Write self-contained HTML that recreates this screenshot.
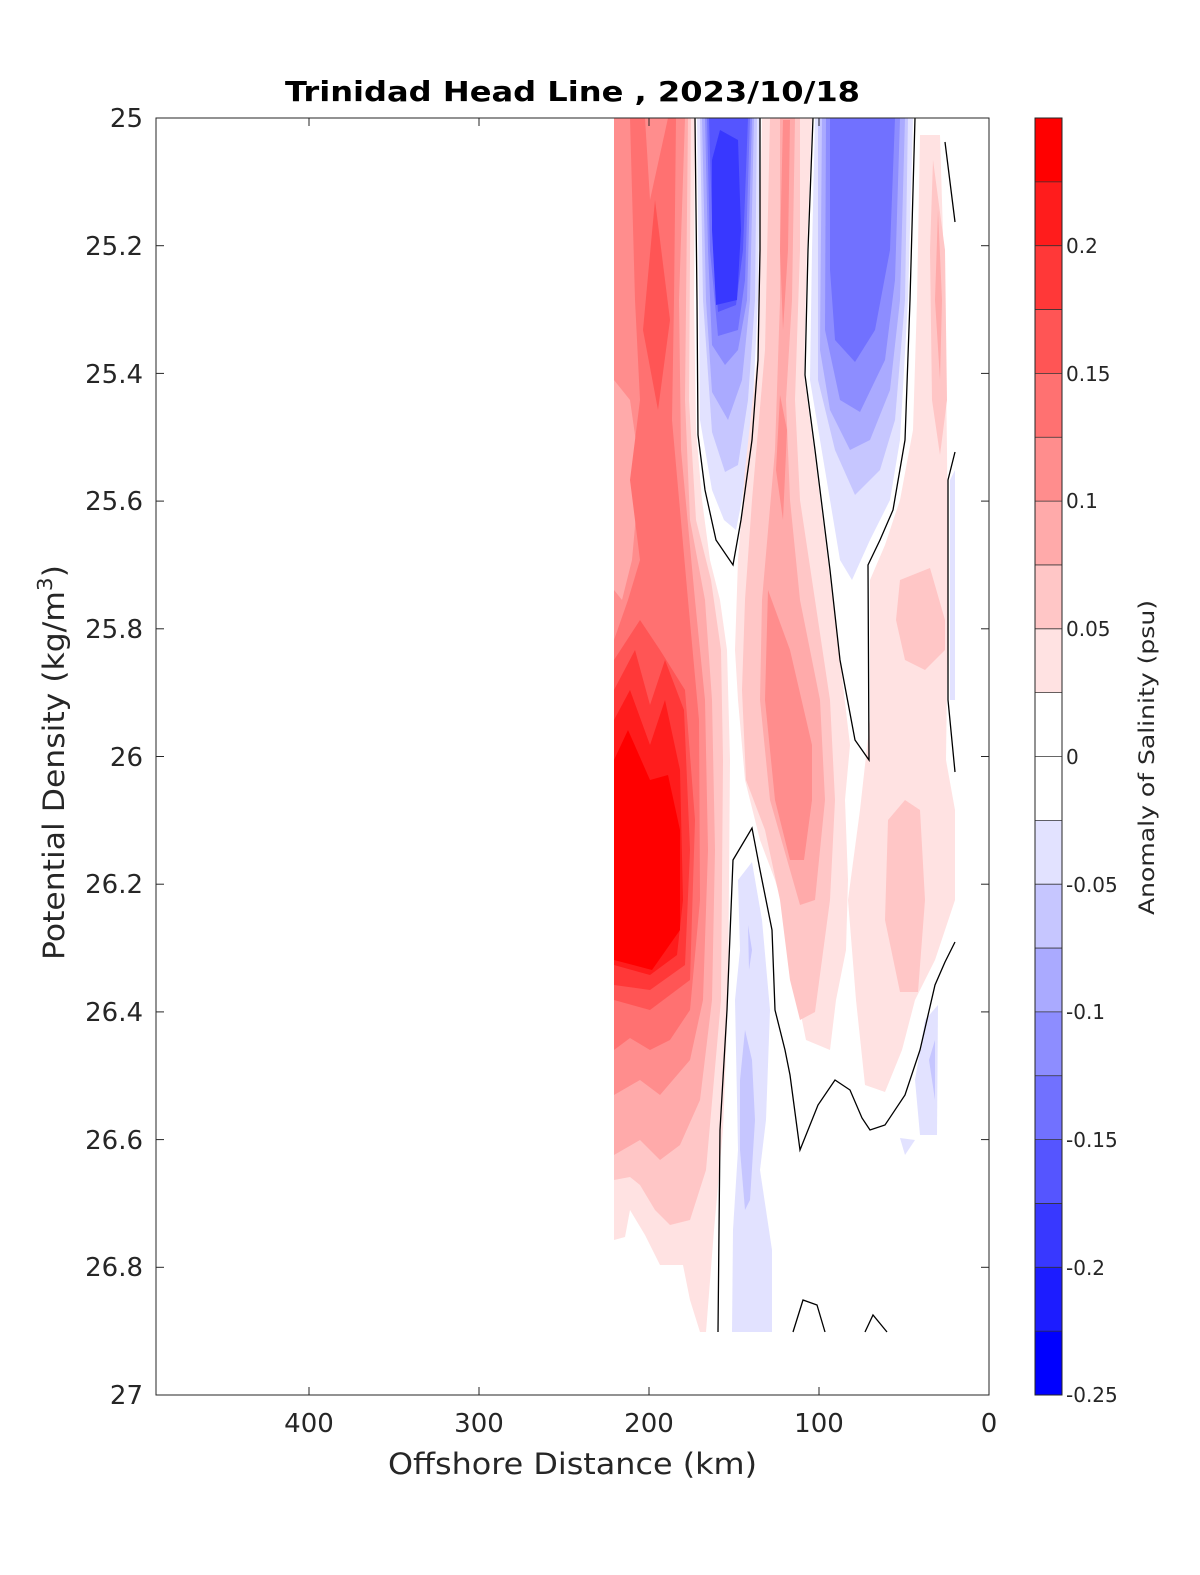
<!DOCTYPE html>
<html><head><meta charset="utf-8"><style>
html,body{margin:0;padding:0;background:#fff;}
svg{display:block;font-family:"DejaVu Sans","Liberation Sans",sans-serif;}
</style></head><body>
<svg width="1200" height="1575" viewBox="0 0 1200 1575" xmlns="http://www.w3.org/2000/svg">
<rect width="1200" height="1575" fill="#fff"/>
<g stroke="none">
<polygon fill="#ffe2e2" points="614,118 695,118 694,300 696,430 702,500 710,560 720,600 727,650 730,760 728,1000 723,1130 714,1230 706,1332 700,1332 690,1300 683,1265 660,1265 645,1235 630,1210 625,1237 614,1240"/>
<polygon fill="#ffc6c6" points="614,118 691,118 689,400 696,520 711,580 721,650 723,760 721,1000 706,1170 690,1220 670,1225 655,1210 640,1185 630,1177 614,1180"/>
<polygon fill="#ffaaaa" points="614,118 688,118 685,400 690,520 705,600 712,700 715,850 712,1000 700,1100 680,1145 660,1160 640,1140 614,1155"/>
<polygon fill="#ff8d8d" points="614,118 685,118 679,300 681,450 695,600 705,700 708,850 703,1000 690,1060 660,1095 640,1080 614,1095"/>
<polygon fill="#ffaaaa" points="614,380 630,400 640,470 632,560 622,600 614,590"/>
<polygon fill="#ff7171" points="630,118 645,118 650,200 668,118 676,118 674,300 672,420 688,600 699,720 700,900 690,1010 670,1040 650,1050 630,1038 614,1050 614,640 628,600 640,560 630,480 640,400 635,300"/>
<polygon fill="#ff5555" points="655,200 670,320 658,410 643,330"/>
<polygon fill="#ff5555" points="614,660 640,620 660,650 685,690 695,820 690,980 650,1010 614,1000"/>
<polygon fill="#ff3838" points="614,690 635,650 650,705 665,660 684,710 690,850 685,965 650,990 614,985"/>
<polygon fill="#ff1c1c" points="614,720 630,690 650,745 665,700 680,770 683,900 677,955 650,975 614,965"/>
<polygon fill="#ff0000" points="614,760 628,730 650,780 668,775 680,830 680,930 652,970 614,960"/>
<polygon fill="#e2e2ff" points="697,118 760,118 758,300 752,420 742,500 736,530 724,520 712,490 700,420 699,300"/>
<polygon fill="#c6c6ff" points="700,118 757,118 755,300 748,400 738,465 725,472 712,432 703,300"/>
<polygon fill="#aaaaff" points="702,118 754,118 750,300 742,380 728,420 712,392 706,300"/>
<polygon fill="#8d8dff" points="705,118 752,118 747,300 738,350 725,365 712,345 708,250"/>
<polygon fill="#7171ff" points="707,118 750,118 745,280 738,330 718,336 710,250"/>
<polygon fill="#5555ff" points="709,118 748,118 743,250 736,305 718,312 712,220"/>
<polygon fill="#3838ff" points="712,160 720,130 738,140 741,230 737,300 716,305 712,230"/>
<polygon fill="#ffe2e2" points="762,118 812,118 807,250 804,375 814,450 829,570 840,660 850,745 845,800 848,880 846,950 836,1000 830,1050 806,1040 796,990 790,930 775,880 760,840 745,780 738,700 735,650 738,560 745,470 757,360"/>
<polygon fill="#ffc6c6" points="770,118 800,118 800,250 795,400 800,500 815,600 830,700 835,800 830,900 815,1012 800,1020 790,980 780,900 765,830 746,780 742,690 745,600 752,500 765,350"/>
<polygon fill="#ffaaaa" points="780,118 795,118 792,300 786,400 790,500 800,600 820,700 825,800 815,900 800,905 790,870 770,800 760,700 762,600 775,450 780,300"/>
<polygon fill="#ff8d8d" points="783,120 790,120 788,250 783,330 780,250"/>
<polygon fill="#ff8d8d" points="780,395 787,430 783,520 776,470"/>
<polygon fill="#ff8d8d" points="768,590 790,650 812,745 812,800 804,860 790,860 775,800 765,700"/>
<polygon fill="#ffe2e2" points="920,135 940,135 945,300 947,450 948,600 946,760 955,810 955,900 935,960 915,1000 902,1050 885,1092 865,1085 856,1000 848,900 860,810 870,720 870,580 885,545 900,500 913,430 917,300"/>
<polygon fill="#ffc6c6" points="933,160 945,250 947,400 940,455 932,400 930,250"/>
<polygon fill="#ffaaaa" points="938,210 942,300 940,380 935,300"/>
<polygon fill="#ffc6c6" points="900,580 930,568 945,620 945,650 925,670 905,660 896,620"/>
<polygon fill="#ffc6c6" points="888,820 905,800 920,810 925,900 918,992 900,992 885,920"/>
<polygon fill="#e2e2ff" points="815,118 913,118 908,300 900,440 890,500 870,540 852,580 840,560 825,470 810,380 812,250"/>
<polygon fill="#c6c6ff" points="818,118 908,118 905,300 895,420 880,470 855,495 835,450 818,380"/>
<polygon fill="#aaaaff" points="822,118 905,118 900,300 890,390 870,440 850,450 830,410 820,350"/>
<polygon fill="#8d8dff" points="826,118 900,118 895,280 885,360 860,412 840,400 825,330"/>
<polygon fill="#7171ff" points="830,118 895,118 890,250 875,330 855,362 835,340 830,270"/>
<polygon fill="#e2e2ff" points="738,880 752,862 762,920 770,1010 766,1120 760,1170 772,1250 772,1332 732,1332 733,1230 738,1150 735,1000 740,950"/>
<polygon fill="#c6c6ff" points="748,925 752,950 749,970"/>
<polygon fill="#c6c6ff" points="745,1030 752,1060 755,1120 750,1200 745,1210 740,1150 740,1080"/>
<polygon fill="#e2e2ff" points="925,1020 938,1005 937,1135 920,1135 915,1080"/>
<polygon fill="#c6c6ff" points="929,1060 935,1040 935,1100"/>
<polygon fill="#e2e2ff" points="900,1138 915,1140 905,1155"/>
<polygon fill="#e2e2ff" points="950,480 955,470 955,700 950,700"/>
</g>
<g fill="none" stroke="#000" stroke-width="1.3">
<polyline points="695,118 697,300 698,435 705,490 716,540 733,565 741,520 752,440 758,360 760,250 760,118"/>
<polyline points="813,118 808,250 805,375 815,450 830,570 840,660 855,740 869,760 868,565 880,540 893,510 905,440 910,300 915,118"/>
<polyline points="945,142 955,222"/>
<polyline points="955,452 948,480 948,700 955,772"/>
<polyline points="718,1332 720,1130 727,1010 733,860 752,828 760,870 772,930 775,1010 785,1050 790,1075 800,1150 818,1105 835,1080 850,1090 862,1118 870,1130 885,1125 905,1095 920,1050 935,985 945,962 955,942"/>
<polyline points="793,1332 803,1300 817,1305 825,1332"/>
<polyline points="865,1332 873,1315 887,1332"/>
</g>
<rect x="156" y="118" width="833" height="1277" fill="none" stroke="#262626" stroke-width="1"/>
<g stroke="#262626" stroke-width="1">
<line x1="309" y1="1395" x2="309" y2="1387"/><line x1="479" y1="1395" x2="479" y2="1387"/><line x1="649" y1="1395" x2="649" y2="1387"/><line x1="819" y1="1395" x2="819" y2="1387"/>
<line x1="309" y1="118" x2="309" y2="126"/><line x1="479" y1="118" x2="479" y2="126"/><line x1="649" y1="118" x2="649" y2="126"/><line x1="819" y1="118" x2="819" y2="126"/>
<line x1="156" y1="245.7" x2="164" y2="245.7"/><line x1="156" y1="373.4" x2="164" y2="373.4"/><line x1="156" y1="501.1" x2="164" y2="501.1"/><line x1="156" y1="628.8" x2="164" y2="628.8"/><line x1="156" y1="756.5" x2="164" y2="756.5"/><line x1="156" y1="884.2" x2="164" y2="884.2"/><line x1="156" y1="1011.9" x2="164" y2="1011.9"/><line x1="156" y1="1139.6" x2="164" y2="1139.6"/><line x1="156" y1="1267.3" x2="164" y2="1267.3"/>
<line x1="981" y1="245.7" x2="989" y2="245.7"/><line x1="981" y1="373.4" x2="989" y2="373.4"/><line x1="981" y1="501.1" x2="989" y2="501.1"/><line x1="981" y1="628.8" x2="989" y2="628.8"/><line x1="981" y1="756.5" x2="989" y2="756.5"/><line x1="981" y1="884.2" x2="989" y2="884.2"/><line x1="981" y1="1011.9" x2="989" y2="1011.9"/><line x1="981" y1="1139.6" x2="989" y2="1139.6"/><line x1="981" y1="1267.3" x2="989" y2="1267.3"/>
</g>
<g font-size="26" fill="#262626" text-anchor="end">
<text x="143" y="127">25</text><text x="143" y="255">25.2</text><text x="143" y="383">25.4</text><text x="143" y="510">25.6</text><text x="143" y="638">25.8</text><text x="143" y="766">26</text><text x="143" y="893">26.2</text><text x="143" y="1021">26.4</text><text x="143" y="1149">26.6</text><text x="143" y="1276">26.8</text><text x="143" y="1404">27</text>
</g>
<g font-size="26" fill="#262626" text-anchor="middle">
<text x="309" y="1432">400</text><text x="479" y="1432">300</text><text x="649" y="1432">200</text><text x="819" y="1432">100</text><text x="989" y="1432">0</text>
</g>
<text x="388" y="1474" font-size="29" fill="#262626" textLength="369" lengthAdjust="spacingAndGlyphs">Offshore Distance (km)</text>
<text transform="translate(64,960) rotate(-90)" font-size="29" fill="#262626" textLength="395" lengthAdjust="spacingAndGlyphs">Potential Density (kg/m<tspan font-size="20" dy="-12">3</tspan><tspan dy="12">)</tspan></text>
<text x="285" y="101" font-size="28" font-weight="bold" fill="#000" textLength="575" lengthAdjust="spacingAndGlyphs">Trinidad Head Line , 2023/10/18</text>
<g stroke="none">
<rect x="1035" y="118" width="27" height="63.85" fill="#ff0000"/>
<rect x="1035" y="181.85" width="27" height="63.85" fill="#ff1c1c"/>
<rect x="1035" y="245.7" width="27" height="63.85" fill="#ff3838"/>
<rect x="1035" y="309.55" width="27" height="63.85" fill="#ff5555"/>
<rect x="1035" y="373.4" width="27" height="63.85" fill="#ff7171"/>
<rect x="1035" y="437.25" width="27" height="63.85" fill="#ff8d8d"/>
<rect x="1035" y="501.1" width="27" height="63.85" fill="#ffaaaa"/>
<rect x="1035" y="564.95" width="27" height="63.85" fill="#ffc6c6"/>
<rect x="1035" y="628.8" width="27" height="63.85" fill="#ffe2e2"/>
<rect x="1035" y="820.35" width="27" height="63.85" fill="#e2e2ff"/>
<rect x="1035" y="884.2" width="27" height="63.85" fill="#c6c6ff"/>
<rect x="1035" y="948.05" width="27" height="63.85" fill="#aaaaff"/>
<rect x="1035" y="1011.9" width="27" height="63.85" fill="#8d8dff"/>
<rect x="1035" y="1075.75" width="27" height="63.85" fill="#7171ff"/>
<rect x="1035" y="1139.6" width="27" height="63.85" fill="#5555ff"/>
<rect x="1035" y="1203.45" width="27" height="63.85" fill="#3838ff"/>
<rect x="1035" y="1267.3" width="27" height="63.85" fill="#1c1cff"/>
<rect x="1035" y="1331.15" width="27" height="63.85" fill="#0000ff"/>
</g>
<g stroke="#333" stroke-width="0.8">
<line x1="1035" x2="1062" y1="181.85" y2="181.85"/><line x1="1035" x2="1062" y1="245.7" y2="245.7"/><line x1="1035" x2="1062" y1="309.55" y2="309.55"/><line x1="1035" x2="1062" y1="373.4" y2="373.4"/><line x1="1035" x2="1062" y1="437.25" y2="437.25"/><line x1="1035" x2="1062" y1="501.1" y2="501.1"/><line x1="1035" x2="1062" y1="564.95" y2="564.95"/><line x1="1035" x2="1062" y1="628.8" y2="628.8"/><line x1="1035" x2="1062" y1="692.65" y2="692.65"/><line x1="1035" x2="1062" y1="756.5" y2="756.5"/><line x1="1035" x2="1062" y1="820.35" y2="820.35"/><line x1="1035" x2="1062" y1="884.2" y2="884.2"/><line x1="1035" x2="1062" y1="948.05" y2="948.05"/><line x1="1035" x2="1062" y1="1011.9" y2="1011.9"/><line x1="1035" x2="1062" y1="1075.75" y2="1075.75"/><line x1="1035" x2="1062" y1="1139.6" y2="1139.6"/><line x1="1035" x2="1062" y1="1203.45" y2="1203.45"/><line x1="1035" x2="1062" y1="1267.3" y2="1267.3"/><line x1="1035" x2="1062" y1="1331.15" y2="1331.15"/>
</g>
<rect x="1035" y="118" width="27" height="1277" fill="none" stroke="#262626" stroke-width="1"/>
<g font-size="20" fill="#262626">
<text x="1066" y="253">0.2</text><text x="1066" y="381">0.15</text><text x="1066" y="508">0.1</text><text x="1066" y="636">0.05</text><text x="1066" y="764">0</text><text x="1066" y="892">-0.05</text><text x="1066" y="1019">-0.1</text><text x="1066" y="1147">-0.15</text><text x="1066" y="1275">-0.2</text><text x="1066" y="1402">-0.25</text>
</g>
<text transform="translate(1154,915) rotate(-90)" font-size="21" fill="#262626" textLength="315" lengthAdjust="spacingAndGlyphs">Anomaly of Salinity (psu)</text>
</svg>
</body></html>
